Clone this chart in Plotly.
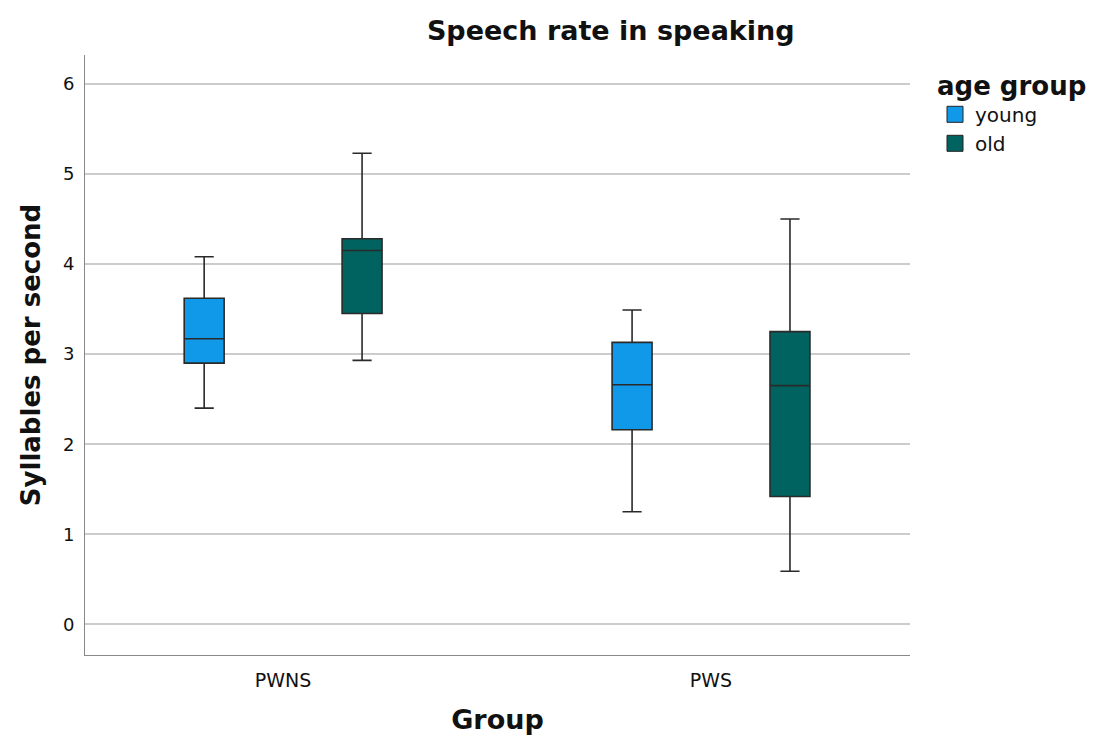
import plotly.graph_objects as go

groups = ["PWNS", "PWS"]
series = ["young", "old"]
colors = {"young": "#1199E9", "old": "#006360"}

lower = {"young": [2.40, 1.25], "old": [2.93, 0.59]}
q1 = {"young": [2.90, 2.16], "old": [3.45, 1.42]}
median = {"young": [3.17, 2.66], "old": [4.15, 2.65]}
q3 = {"young": [3.62, 3.13], "old": [4.28, 3.25]}
upper = {"young": [4.08, 3.49], "old": [5.23, 4.50]}

yticks = [0, 1, 2, 3, 4, 5, 6]

FONT = "DejaVu Sans"

fig = go.Figure()
for s in series:
    fig.add_trace(go.Box(
        x=groups, q1=q1[s], median=median[s], q3=q3[s],
        lowerfence=lower[s], upperfence=upper[s],
        name=s, fillcolor=colors[s],
        line=dict(color="#2a2a2a", width=1.6),
        whiskerwidth=0.48, showlegend=False, hoverinfo="skip",
    ))
    fig.add_trace(go.Scatter(
        x=[None], y=[None], mode="markers", name=s,
        marker=dict(symbol="square", size=20, color=colors[s],
                    line=dict(color="#222222", width=1)),
    ))

fig.update_layout(
    width=1093, height=740,
    margin=dict(l=85, r=183, t=55, b=85, autoexpand=False),
    plot_bgcolor="white", paper_bgcolor="white",
    boxmode="group", boxgap=0.262, boxgroupgap=0.747,
    font=dict(family=FONT, color="#111111"),
    title=dict(text="<b>Speech rate in speaking</b>", x=0.5588, xanchor="center",
               y=0.959, yanchor="middle", font=dict(size=27, family=FONT, color="#111111")),
    legend=dict(
        title=dict(text="<b>age group</b>", font=dict(size=26, family=FONT)),
        x=1.0, xanchor="left", y=0.99, yanchor="top", xref="paper",
        font=dict(size=20, family=FONT), tracegroupgap=0, itemsizing="trace",
    ),
    xaxis=dict(
        range=[-0.463, 1.465], showgrid=False, showline=True, linecolor="#888888",
        linewidth=1, ticks="", tickfont=dict(size=19), ticklabelstandoff=8,
        title=dict(text="<b>Group</b>", font=dict(size=27), standoff=20),
        zeroline=False,
    ),
    yaxis=dict(
        range=[-0.34, 6.32], tickvals=yticks, showgrid=True, gridcolor="#CCCCCC",
        gridwidth=1.5, showline=True, linecolor="#888888", linewidth=1, ticks="",
        tickfont=dict(size=18), ticklabelstandoff=6, zeroline=False,
        title=dict(text="<b>Syllables per second</b>", font=dict(size=26), standoff=14),
    ),
)

# place legend left edge at ~935 px
fig.update_layout(legend_x=(935 - 85) / 825)

fig.write_html("out.html")
